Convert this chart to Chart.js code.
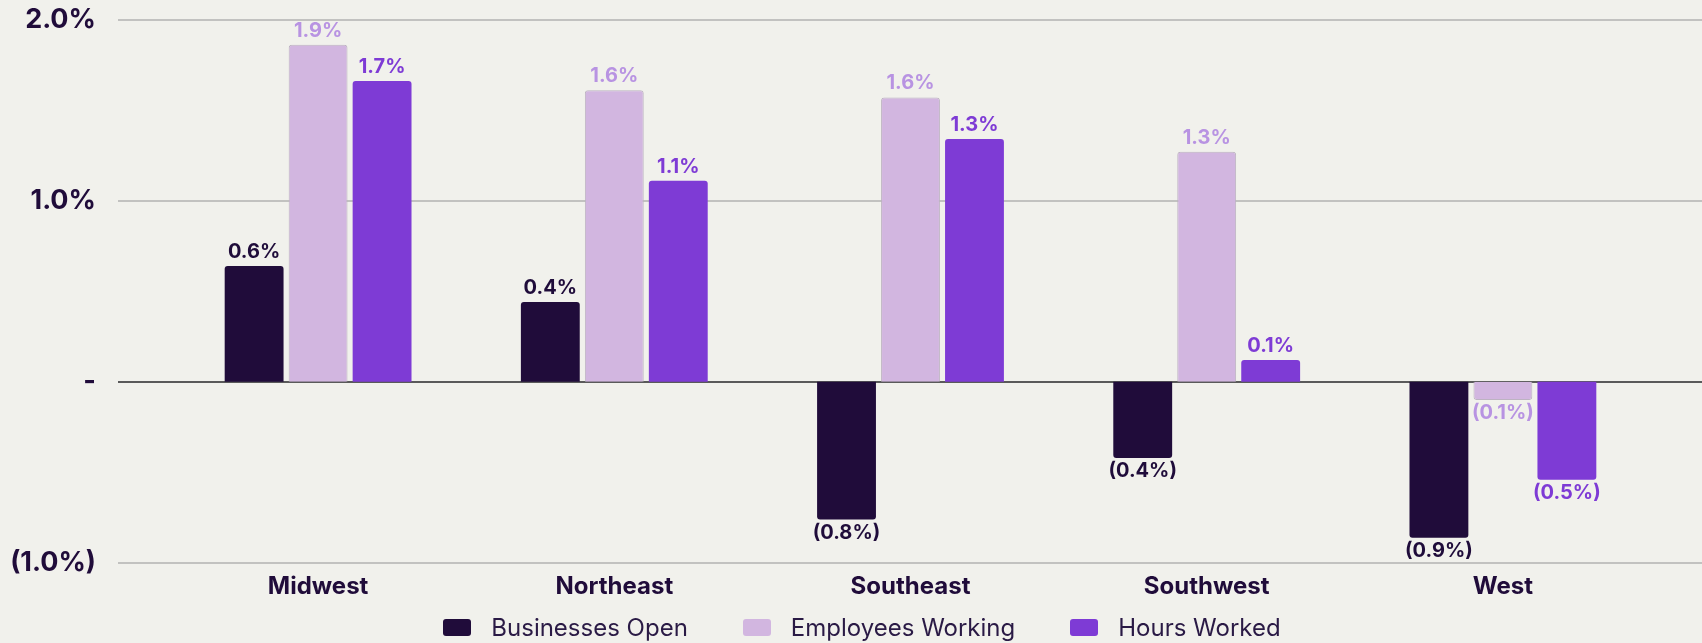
<!DOCTYPE html>
<html>
<head>
<meta charset="utf-8">
<script src="https://cdn.jsdelivr.net/npm/chart.js@4/dist/chart.umd.min.js"></script>
<style>
  html, body { margin: 0; padding: 0; background: #f1f1ec; }
  #wrap { position: relative; width: 1702px; height: 643px; overflow: hidden; }
  #legend {
    position: absolute; left: 0; right: 0; top: 613px; height: 28px;
    display: flex; justify-content: center; align-items: center; gap: 55px;
    padding-left: 22px;
    font-family: Inter, "Noto Sans", sans-serif; font-size: 24px; color: #2a1a45;
  }
  #legend .item { display: flex; align-items: center; gap: 20px; }
  #legend .box { width: 28px; height: 17px; border-radius: 3px; }
</style>
</head>
<body>
<div id="wrap">
  <canvas id="chart" width="1702" height="643"></canvas>
  <div id="legend"></div>
</div>
<script>
(() => {
    // data (percent)
    const regions = ['Midwest', 'Northeast', 'Southeast', 'Southwest', 'West'];
    const businessesOpen = [0.64, 0.44, -0.76, -0.42, -0.86];
    const employeesWorking = [1.86, 1.61, 1.57, 1.27, -0.10];
    const hoursWorked = [1.66, 1.11, 1.34, 0.12, -0.54];
    const yTickValues = [-1, 0, 1, 2];

    const seriesNames = ['Businesses Open', 'Employees Working', 'Hours Worked'];
    const barColors = ['#200c3a', '#d2b6e0', '#7e3bd5'];
    const labelColors = ['#1f0c3a', '#b893e2', '#7e3bd5'];
    const inkColor = '#200c3a';
    const fontFamily = 'Inter, "Noto Sans", sans-serif';

    // percent text: negatives in brackets, zero as a dash
    const fmt = v => {
        if (v === 0) return '-';
        const s = Math.abs(v).toFixed(1) + '%';
        return v < 0 ? `(${s})` : s;
    };

    // grid lines run past the plot on both sides
    const gridPlugin = {
        id: 'wideGrid',
        beforeDatasetsDraw(chart) {
            const { ctx } = chart;
            const y = chart.scales.y;
            ctx.save();
            yTickValues.forEach(v => {
                const py = Math.round(y.getPixelForValue(v));
                ctx.beginPath();
                ctx.lineWidth = 2;
                ctx.strokeStyle = v === 0 ? '#5a5a5a' : '#c2c2c0';
                ctx.moveTo(118, py);
                ctx.lineTo(chart.width, py);
                ctx.stroke();
            });
            ctx.restore();
        }
    };

    // value labels above / below each bar
    const labelPlugin = {
        id: 'barLabels',
        afterDatasetsDraw(chart) {
            const { ctx } = chart;
            ctx.save();
            ctx.font = `700 20px ${fontFamily}`;
            ctx.textAlign = 'center';
            ctx.textBaseline = 'middle';
            chart.data.datasets.forEach((ds, i) => {
                const meta = chart.getDatasetMeta(i);
                ctx.fillStyle = labelColors[i];
                meta.data.forEach((bar, j) => {
                    const v = ds.data[j];
                    const ty = v >= 0 ? bar.y - 14 : bar.y + 13;
                    ctx.fillText(fmt(v), bar.x, ty);
                });
            });
            ctx.restore();
        }
    };

    const makeDataset = (label, data, i) => ({
        label,
        data,
        backgroundColor: barColors[i],
        borderColor: i === 1 ? '#bdb3c2' : barColors[i],
        borderWidth: i === 1 ? 1 : 0,
        borderRadius: 3,
        categoryPercentage: 0.648,
        barPercentage: 0.92
    });

    const chart = new Chart(document.getElementById('chart'), {
        type: 'bar',
        data: {
            labels: regions,
            datasets: [
                makeDataset(seriesNames[0], businessesOpen, 0),
                makeDataset(seriesNames[1], employeesWorking, 1),
                makeDataset(seriesNames[2], hoursWorked, 2)
            ]
        },
        options: {
            responsive: false,
            animation: false,
            devicePixelRatio: 1,
            layout: { padding: { top: 19.5, right: 51, bottom: 0, left: 0 } },
            plugins: {
                legend: { display: false },
                tooltip: { enabled: false }
            },
            scales: {
                x: {
                    grid: { display: false, drawTicks: false },
                    border: { display: false },
                    ticks: {
                        color: inkColor,
                        padding: 9,
                        font: { family: fontFamily, size: 24, weight: '700' }
                    },
                    afterFit: scale => { scale.height = 80; }
                },
                y: {
                    min: -1,
                    max: 2,
                    grid: { display: false, drawTicks: false },
                    border: { display: false },
                    afterBuildTicks: scale => {
                        scale.ticks = yTickValues.map(value => ({ value }));
                    },
                    ticks: {
                        color: inkColor,
                        padding: 74,
                        font: { family: fontFamily, size: 27, weight: '700' },
                        callback: v => fmt(v)
                    },
                    afterFit: scale => {
                        // wide label gap, but keep the plot top/bottom tight
                        scale.width = 170;
                        scale.paddingTop = 0;
                        scale.paddingBottom = 0;
                    }
                }
            }
        },
        plugins: [gridPlugin, labelPlugin]
    });

    // html legend built from the datasets
    const legendEl = document.getElementById('legend');
    chart.data.datasets.forEach(ds => {
        const item = document.createElement('div');
        item.className = 'item';
        item.innerHTML = `<span class="box" style="background:${ds.backgroundColor}"></span><span>${ds.label}</span>`;
        legendEl.appendChild(item);
    });
})();
</script>
</body>
</html>
